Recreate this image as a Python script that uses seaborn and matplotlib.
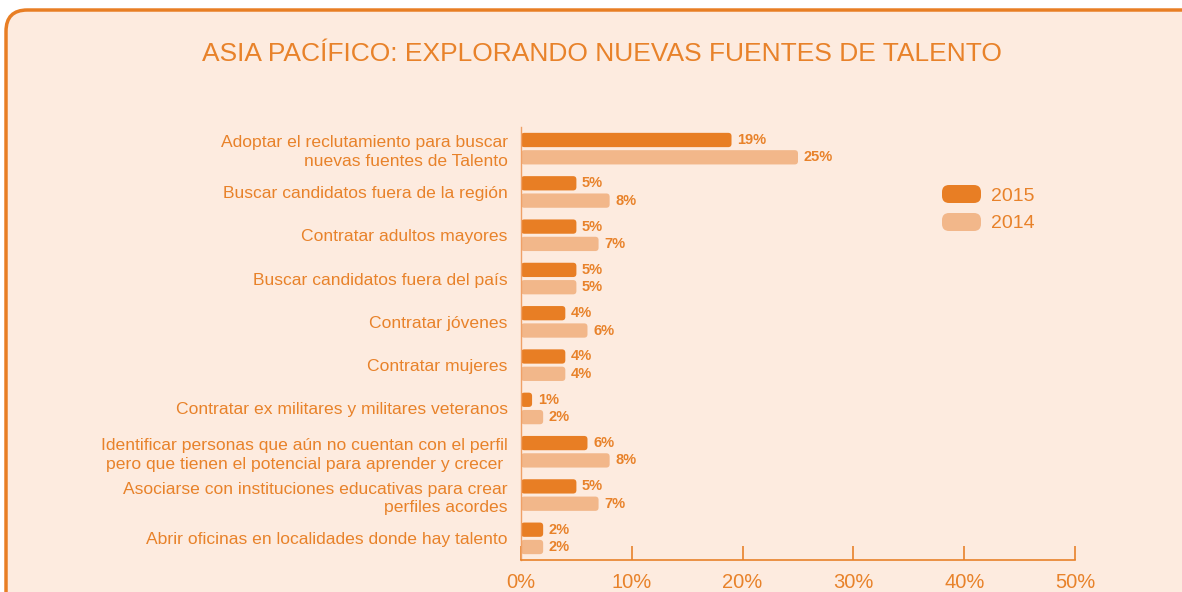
import numpy as np
import pandas as pd
import matplotlib
matplotlib.use("Agg")
import matplotlib.pyplot as plt
from matplotlib.patches import FancyBboxPatch
import seaborn as sns

# data
categories = [
    "Adoptar el reclutamiento para buscar\nnuevas fuentes de Talento",
    "Buscar candidatos fuera de la región",
    "Contratar adultos mayores",
    "Buscar candidatos fuera del país",
    "Contratar jóvenes",
    "Contratar mujeres",
    "Contratar ex militares y militares veteranos",
    "Identificar personas que aún no cuentan con el perfil\npero que tienen el potencial para aprender y crecer ",
    "Asociarse con instituciones educativas para crear\nperfiles acordes",
    "Abrir oficinas en localidades donde hay talento",
]
values_2015 = [19, 5, 5, 5, 4, 4, 1, 6, 5, 2]
values_2014 = [25, 8, 7, 5, 6, 4, 2, 8, 7, 2]
years = ["2015", "2014"]
xticks = [0, 10, 20, 30, 40, 50]

ORANGE = "#E87E24"
LIGHT = "#F2B78A"
TEXT = "#E8822A"
BG = "#FDEBDF"

df = pd.DataFrame({
    "cat": categories * 2,
    "year": ["2015"] * len(categories) + ["2014"] * len(categories),
    "val": values_2015 + values_2014,
})

sns.set_theme(style="white")
plt.rcParams["font.family"] = ["Liberation Sans", "DejaVu Sans"]

fig = plt.figure(figsize=(11.82, 5.92), dpi=100, facecolor="white")

# rounded panel with orange border
panel = FancyBboxPatch((6 / 1182, -0.2), 1.2, 1.2 - 10 / 592,
                       boxstyle="round,pad=0,rounding_size=0.018",
                       transform=fig.transFigure, facecolor=BG,
                       edgecolor=ORANGE, linewidth=2.5, mutation_aspect=2.0,
                       zorder=-10)
fig.patches.append(panel)

ax = fig.add_axes([521 / 1182, 1 - 560 / 592, (1075 - 521) / 1182, (560 - 127) / 592])
ax.set_facecolor("none")
ax.set_zorder(5)

sns.barplot(data=df, y="cat", x="val", hue="year", hue_order=years,
            palette=[ORANGE, LIGHT], orient="h", width=0.8, ax=ax,
            legend=False, saturation=1)

# swap bars for slightly rounded, thinner ones
px_x = (1075 - 521) / 50
px_y = (560 - 127) / 10
thick = 0.33
for p in list(ax.patches):
    w = p.get_width()
    yc = p.get_y() + p.get_height() / 2
    col = p.get_facecolor()
    p.remove()
    fb = FancyBboxPatch((0, yc - thick / 2), w, thick,
                        boxstyle="round,pad=0,rounding_size=0.3",
                        mutation_aspect=px_x / px_y,
                        facecolor=col, edgecolor="none", zorder=2)
    ax.add_patch(fb)
    ax.annotate(f"{int(round(w))}%", (w, yc), xytext=(4, 0),
                textcoords="offset points", va="center", ha="left",
                fontsize=10.5, fontweight="bold", color=TEXT)

ax.set_xlim(0, 50)
ax.set_ylim(9.5, -0.5)
ax.set_xlabel("")
ax.set_ylabel("")
ax.set_xticks(xticks)
ax.set_xticklabels([f"{t}%" for t in xticks], fontsize=14.5, color=TEXT)
ax.tick_params(axis="x", direction="in", length=10, width=1.2,
               color=TEXT, pad=9, bottom=True)
ax.tick_params(axis="y", length=0, pad=9.5, labelsize=12.6, labelcolor=TEXT)
for lab in ax.get_yticklabels():
    lab.set_linespacing(1.32)
for s in ["top", "right"]:
    ax.spines[s].set_visible(False)
ax.spines["left"].set_color("#EFA066")
ax.spines["left"].set_linewidth(1.0)
ax.spines["bottom"].set_color(TEXT)
ax.spines["bottom"].set_linewidth(1.2)

fig.text(602 / 1182, 1 - 54 / 592,
         "ASIA PACÍFICO: EXPLORANDO NUEVAS FUENTES DE TALENTO",
         ha="center", va="center", fontsize=19, color=TEXT)

# legend
for i, (yr, col) in enumerate(zip(years, [ORANGE, LIGHT])):
    yc = 194 + i * 28
    fig.patches.append(FancyBboxPatch(
        (942 / 1182, 1 - (yc + 9) / 592), 39 / 1182, 18 / 592,
        boxstyle="round,pad=0,rounding_size=0.006", mutation_aspect=2.0,
        transform=fig.transFigure, facecolor=col, edgecolor="none"))
    fig.text(991 / 1182, 1 - (yc + 2) / 592, yr, ha="left", va="center",
             fontsize=14, color=TEXT)

fig.savefig("out.png", dpi=100, facecolor="white")
